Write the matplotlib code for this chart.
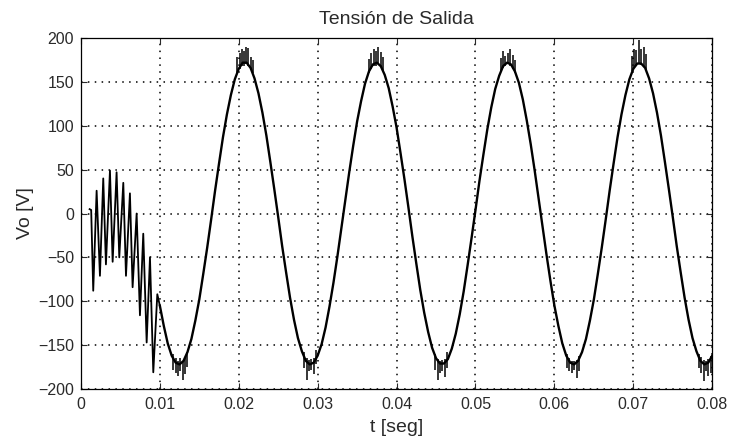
import matplotlib.pyplot as plt
import numpy as np

plt.rcParams['font.family'] = ['Liberation Sans', 'DejaVu Sans']
plt.rcParams['font.size'] = 10

# ---------------------------------------------------------------------------
# Start-up transient
# ---------------------------------------------------------------------------
t_tr = [0.00110, 0.00130, 0.00156, 0.00199, 0.00241, 0.00283, 0.00317,
        0.00368, 0.00402, 0.00452, 0.00486, 0.00537, 0.00571, 0.00621,
        0.00655, 0.00706, 0.00748, 0.00790, 0.00833, 0.00875, 0.00917,
        0.00968]
v_tr = [5, 4, -88, 26, -71, 40, -58, 49, -55, 47, -50, 35, -71, 23,
        -84, 0, -116, -23, -147, -50, -181, -92]

# ---------------------------------------------------------------------------
# Steady state output, sampled every 0.5 ms from 0.010 s to 0.080 s
# ---------------------------------------------------------------------------
t_ss = np.arange(141) * 0.0005 + 0.010
v_ss = [-105, -128, -148, -162, -170, -172, -168, -158, -143, -122,
        -98, -69, -39, -7, 26, 57, 87, 113, 135, 153,
        165, 172, 172, 166, 154, 137, 115, 89, 59, 28,
        -4, -37, -67, -96, -121, -142, -157, -168, -172, -170,
        -162, -149, -130, -106, -79, -49, -17, 15, 47, 77,
        105, 128, 148, 162, 170, 172, 168, 158, 143, 122,
        98, 69, 39, 7, -26, -57, -87, -113, -135, -153,
        -165, -171, -171, -166, -154, -137, -115, -89, -59, -28,
        4, 37, 67, 96, 121, 142, 157, 168, 172, 170,
        162, 149, 130, 106, 79, 49, 17, -15, -47, -77,
        -105, -128, -148, -162, -170, -172, -168, -158, -143, -122,
        -98, -69, -39, -7, 26, 57, 87, 113, 135, 153,
        165, 171, 171, 166, 154, 137, 115, 89, 59, 28,
        -4, -37, -67, -96, -121, -142, -157, -168, -172, -170,
        -162]

# Switching ripple around the peaks and troughs (spike start / end)
t_spk = [0.0117, 0.0120, 0.0123, 0.0126, 0.0129, 0.0132, 0.0135,
         0.0198, 0.0201, 0.0204, 0.0207, 0.0209, 0.0212, 0.0215, 0.0218,
         0.0283, 0.0286, 0.0289, 0.0292, 0.0295, 0.0298,
         0.0365, 0.0368, 0.0371, 0.0374, 0.0377, 0.0380, 0.0383,
         0.0449, 0.0452, 0.0455, 0.0458, 0.0461, 0.0464,
         0.0532, 0.0535, 0.0538, 0.0541, 0.0544, 0.0547, 0.0550,
         0.0616, 0.0619, 0.0622, 0.0625, 0.0628, 0.0631,
         0.0698, 0.0701, 0.0704, 0.0707, 0.0710, 0.0713, 0.0716,
         0.0783, 0.0786, 0.0789, 0.0792, 0.0795, 0.0798]
v_lo = [-178, -182, -185, -180, -190, -183, -175,
        160, 165, 168, 168, 170, 168, 165, 160,
        -176, -190, -180, -178, -183, -172,
        160, 165, 168, 168, 170, 167, 163,
        -178, -190, -182, -180, -186, -176,
        162, 166, 168, 170, 168, 165, 160,
        -176, -180, -182, -178, -187, -180,
        162, 166, 168, 170, 169, 167, 163,
        -176, -182, -191, -180, -185, -182]
v_hi = [-160, -165, -168, -165, -168, -165, -158,
        178, 183, 188, 185, 190, 189, 178, 175,
        -158, -165, -167, -166, -165, -156,
        176, 183, 188, 185, 190, 184, 178,
        -160, -166, -168, -167, -166, -158,
        177, 185, 180, 183, 188, 181, 175,
        -160, -165, -168, -168, -167, -163,
        180, 188, 186, 198, 188, 190, 182,
        -160, -164, -167, -168, -166, -163]

fig = plt.figure(figsize=(7.29, 4.43), dpi=100)
ax = fig.add_axes([0.111, 0.122, 0.866, 0.792])

ax.plot(t_tr + [t_ss[0]], v_tr + [v_ss[0]], color='black', linewidth=1.3)
ax.plot(t_ss, v_ss, color='black', linewidth=1.7)
ax.vlines(t_spk, v_lo, v_hi, color='black', linewidth=1.1)

ax.set_xlim(0, 0.08)
ax.set_ylim(-200, 200)
ax.set_xticks(np.arange(0, 0.081, 0.01))
ax.set_xticklabels(['0', '0.01', '0.02', '0.03', '0.04', '0.05', '0.06',
                    '0.07', '0.08'])
ax.set_yticks(np.arange(-200, 201, 50))

ax.grid(True, linestyle=(0, (1, 3.5)), color='black', linewidth=1.1)
ax.tick_params(direction='in', top=True, right=True, length=4,
               labelsize=11.5, colors='#2a2a2a')
ax.tick_params(axis='x', pad=6)
ax.tick_params(axis='y', pad=5)
for s in ax.spines.values():
    s.set_linewidth(0.9)

ax.set_title('Tensión de Salida', fontsize=14, color='#2a2a2a', pad=10.5)
ax.set_xlabel('t [seg]', fontsize=14, color='#2a2a2a', labelpad=5)
ax.set_ylabel('Vo [V]', fontsize=14, color='#2a2a2a', labelpad=3)

fig.savefig('out.png', dpi=100)
